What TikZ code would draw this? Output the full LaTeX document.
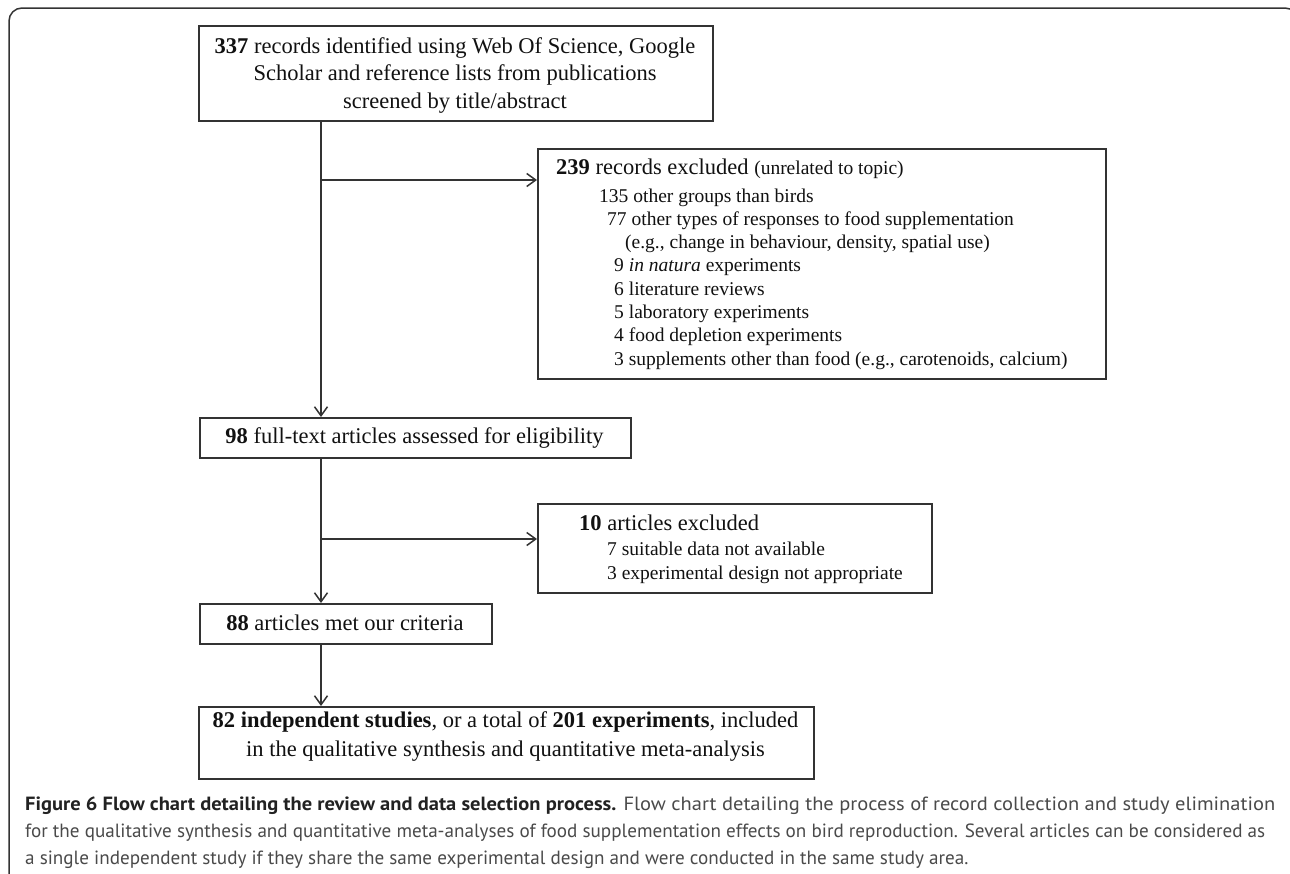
\documentclass[tikz,border=0pt]{standalone}
\usepackage{fontspec}
\usepackage{graphicx}
\setmainfont{Liberation Serif}
\newfontfamily\capfont{PT Sans}
\usetikzlibrary{arrows.meta}
\definecolor{linec}{HTML}{333333}
\definecolor{textc}{HTML}{111111}
\definecolor{capc}{HTML}{4A4A4A}
\definecolor{capb}{HTML}{222222}
\newcommand\mytxtA{\fontsize{22.5}{27}\selectfont}
\newcommand\mytxtB{\fontsize{19.5}{23}\selectfont}
\newlength\mycapw
\begin{document}
\settowidth\mycapw{\capfont\fontsize{10}{12}\selectfont for the qualitative synthesis and quantitative meta-analyses of food supplementation effects on bird reproduction. Several articles can be considered as}%
\pgfmathsetmacro\mycapsize{1240/\mycapw*10}%
\begin{tikzpicture}[x=1pt,y=-1pt,
  box/.style={draw=linec, line width=1.5pt, inner sep=0pt, anchor=north west, rectangle},
  txt/.style={inner sep=0pt, anchor=base west, text=textc, font=\mytxtA},
  stxt/.style={inner sep=0pt, anchor=base west, text=textc, font=\mytxtB},
  ctxt/.style={inner sep=0pt, anchor=base, text=textc, font=\mytxtA},
  conn/.style={draw=linec, line width=1.5pt},
  arr/.style={conn, -{Straight Barb[length=9pt,width=13pt]}},
  captxt/.style={inner sep=0pt, anchor=base west, text=capc}
]
\useasboundingbox (0,0) rectangle (1290,873);
\clip (0,0) rectangle (1290,873);
\fill[white] (0,0) rectangle (1290,873);
% outer frame
\draw[draw=linec, line width=1.5pt, rounded corners=13pt] (9,900) -- (9,8) -- (1298,8) -- (1298,900);

% boxes
\node[box, minimum width=514pt, minimum height=95pt] (top) at (198,25) {};
\node[box, minimum width=568pt, minimum height=230pt] (exc1) at (537,148) {};
\node[box, minimum width=431pt, minimum height=40pt] (b98) at (199,417) {};
\node[box, minimum width=394pt, minimum height=89pt] (exc2) at (537,503) {};
\node[box, minimum width=292pt, minimum height=40pt] (b88) at (199,603) {};
\node[box, minimum width=615pt, minimum height=72pt] (fin) at (198,706) {};

% top box text
\node[ctxt] (t1) at (455,53) {\textbf{337} records identified using Web Of Science, Google};
\node[ctxt] (t2) at (455,80.5) {Scholar and reference lists from publications};
\node[ctxt] (t3) at (455,108) {screened by title/abstract};

% excluded 1 text
\node[txt] (e0) at (556,174) {\textbf{239} records excluded {\mytxtB(unrelated to topic)}};
\node[stxt] (e1) at (599,202) {135 other groups than birds};
\node[stxt] (e2) at (607,225.3) {77 other types of responses to food supplementation};
\node[stxt] (e3) at (625,248.6) {(e.g., change in behaviour, density, spatial use)};
\node[stxt] (e4) at (614,271.9) {9 \textit{in natura} experiments};
\node[stxt] (e5) at (614,295.2) {6 literature reviews};
\node[stxt] (e6) at (614,318.5) {5 laboratory experiments};
\node[stxt] (e7) at (614,341.8) {4 food depletion experiments};
\node[stxt] (e8) at (614,365) {3 supplements other than food (e.g., carotenoids, calcium)};

% 98 box
\node[ctxt] (n98) at (414.5,443) {\textbf{98} full-text articles assessed for eligibility};

% excluded 2 text
\node[txt] (f0) at (579,530) {\textbf{10} articles excluded};
\node[stxt] (f1) at (607,555) {7 suitable data not available};
\node[stxt] (f2) at (607,579) {3 experimental design not appropriate};

% 88 box
\node[ctxt] (n88) at (345,630) {\textbf{88} articles met our criteria};

% final box
\node[ctxt] (g1) at (505.5,727) {\textbf{82 independent studies}, or a total of \textbf{201 experiments}, included};
\node[ctxt] (g2) at (505.5,756) {in the qualitative synthesis and quantitative meta-analysis};

% connectors
\coordinate (trunk) at (321,0);
\coordinate (br1) at (321,180);
\coordinate (br2) at (321,539);
\draw[arr] (top.south -| trunk) -- (b98.north -| trunk);
\draw[arr] (br1) -- (br1 -| exc1.west);
\draw[arr] (b98.south -| trunk) -- (b88.north -| trunk);
\draw[arr] (br2) -- (br2 -| exc2.west);
\draw[arr] (b88.south -| trunk) -- (fin.north -| trunk);

% caption
\node[captxt, font=\capfont\fontsize{\mycapsize}{\mycapsize}\selectfont] (c1) at (25,810) {\resizebox{1250pt}{\height}{\textcolor{capb}{\textbf{Figure 6 Flow chart detailing the review and data selection process.}} Flow chart detailing the process of record collection and study elimination}};
\node[captxt, font=\capfont\fontsize{\mycapsize}{\mycapsize}\selectfont] (c2) at (25,837) {for the qualitative synthesis and quantitative meta-analyses of food supplementation effects on bird reproduction. Several articles can be considered as};
\node[captxt, font=\capfont\fontsize{\mycapsize}{\mycapsize}\selectfont] (c3) at (25,864) {a single independent study if they share the same experimental design and were conducted in the same study area.};
\end{tikzpicture}
\end{document}
